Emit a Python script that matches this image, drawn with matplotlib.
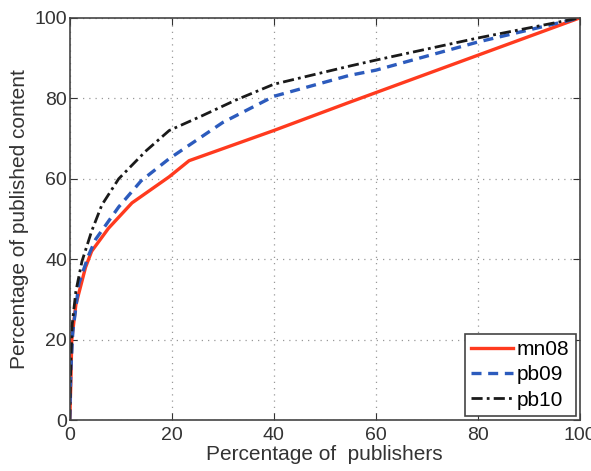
import matplotlib
matplotlib.use("Agg")
import matplotlib.pyplot as plt

plt.rcParams['font.family'] = ['Liberation Sans', 'DejaVu Sans']

# curves
mn08_x = [0, 0.2, 0.4, 1.2, 3.1, 4.3, 7.6, 12.2, 19.5, 23.4, 40, 54.8, 100]
mn08_y = [0, 8.7, 20, 28.7, 38, 42, 47.7, 54, 60.5, 64.5, 72, 79, 100]

pb09_x = [0, 0.2, 0.6, 1.8, 3.7, 5.1, 9.6, 14, 19.5, 30, 40, 54.8, 60, 80, 100]
pb09_y = [0, 12, 22, 34, 41, 45, 53, 59.5, 65, 74, 80.5, 85.7, 87, 94, 100]

pb10_x = [0, 0.2, 0.5, 1.2, 2.4, 4.3, 6.3, 9.6, 15, 19.5, 26, 32.6, 40, 54.8, 60, 80, 100]
pb10_y = [0, 14, 24, 32, 39.5, 47, 53.5, 60, 67, 72, 75.7, 79.6, 83.5, 88, 89.5, 95, 100]

ticks = [0, 20, 40, 60, 80, 100]

fig = plt.figure(figsize=(5.91, 4.71), dpi=100)
ax = fig.add_axes([0.118, 0.108, 0.863, 0.854])

ax.plot(mn08_x, mn08_y, color='#ff3a1e', lw=2.4, label='mn08')
ax.plot(pb09_x, pb09_y, color='#2c5bbd', lw=2.4, ls=(0, (3, 2)), label='pb09')
ax.plot(pb10_x, pb10_y, color='#1a1a1a', lw=2.0, ls=(0, (4, 1.5, 1, 1.5)), label='pb10')

ax.set_xlim(0, 100)
ax.set_ylim(0, 100)
ax.set_xticks(ticks)
ax.set_yticks(ticks)
ax.grid(True, ls=(0, (1, 4)), color='#999999', lw=0.9)
ax.tick_params(direction='in', top=True, right=True, labelsize=14, colors='#333333',
               length=5)
ax.tick_params(axis='x', pad=5)
ax.tick_params(axis='y', pad=2)
for s in ax.spines.values():
    s.set_color('#444444')
    s.set_linewidth(1.2)

ax.set_xlabel('Percentage of  publishers', fontsize=15, color='#333333', labelpad=1)
ax.set_ylabel('Percentage of published content', fontsize=15, color='#333333', labelpad=4)

leg = ax.legend(loc='lower right', fontsize=15, fancybox=False, framealpha=1,
                handlelength=2.0, handletextpad=0.2, borderpad=0.3, labelspacing=0.3,
                borderaxespad=0.2)
leg.get_frame().set_edgecolor('#444444')
leg.get_frame().set_linewidth(1.2)

fig.savefig('out.png', dpi=100)
